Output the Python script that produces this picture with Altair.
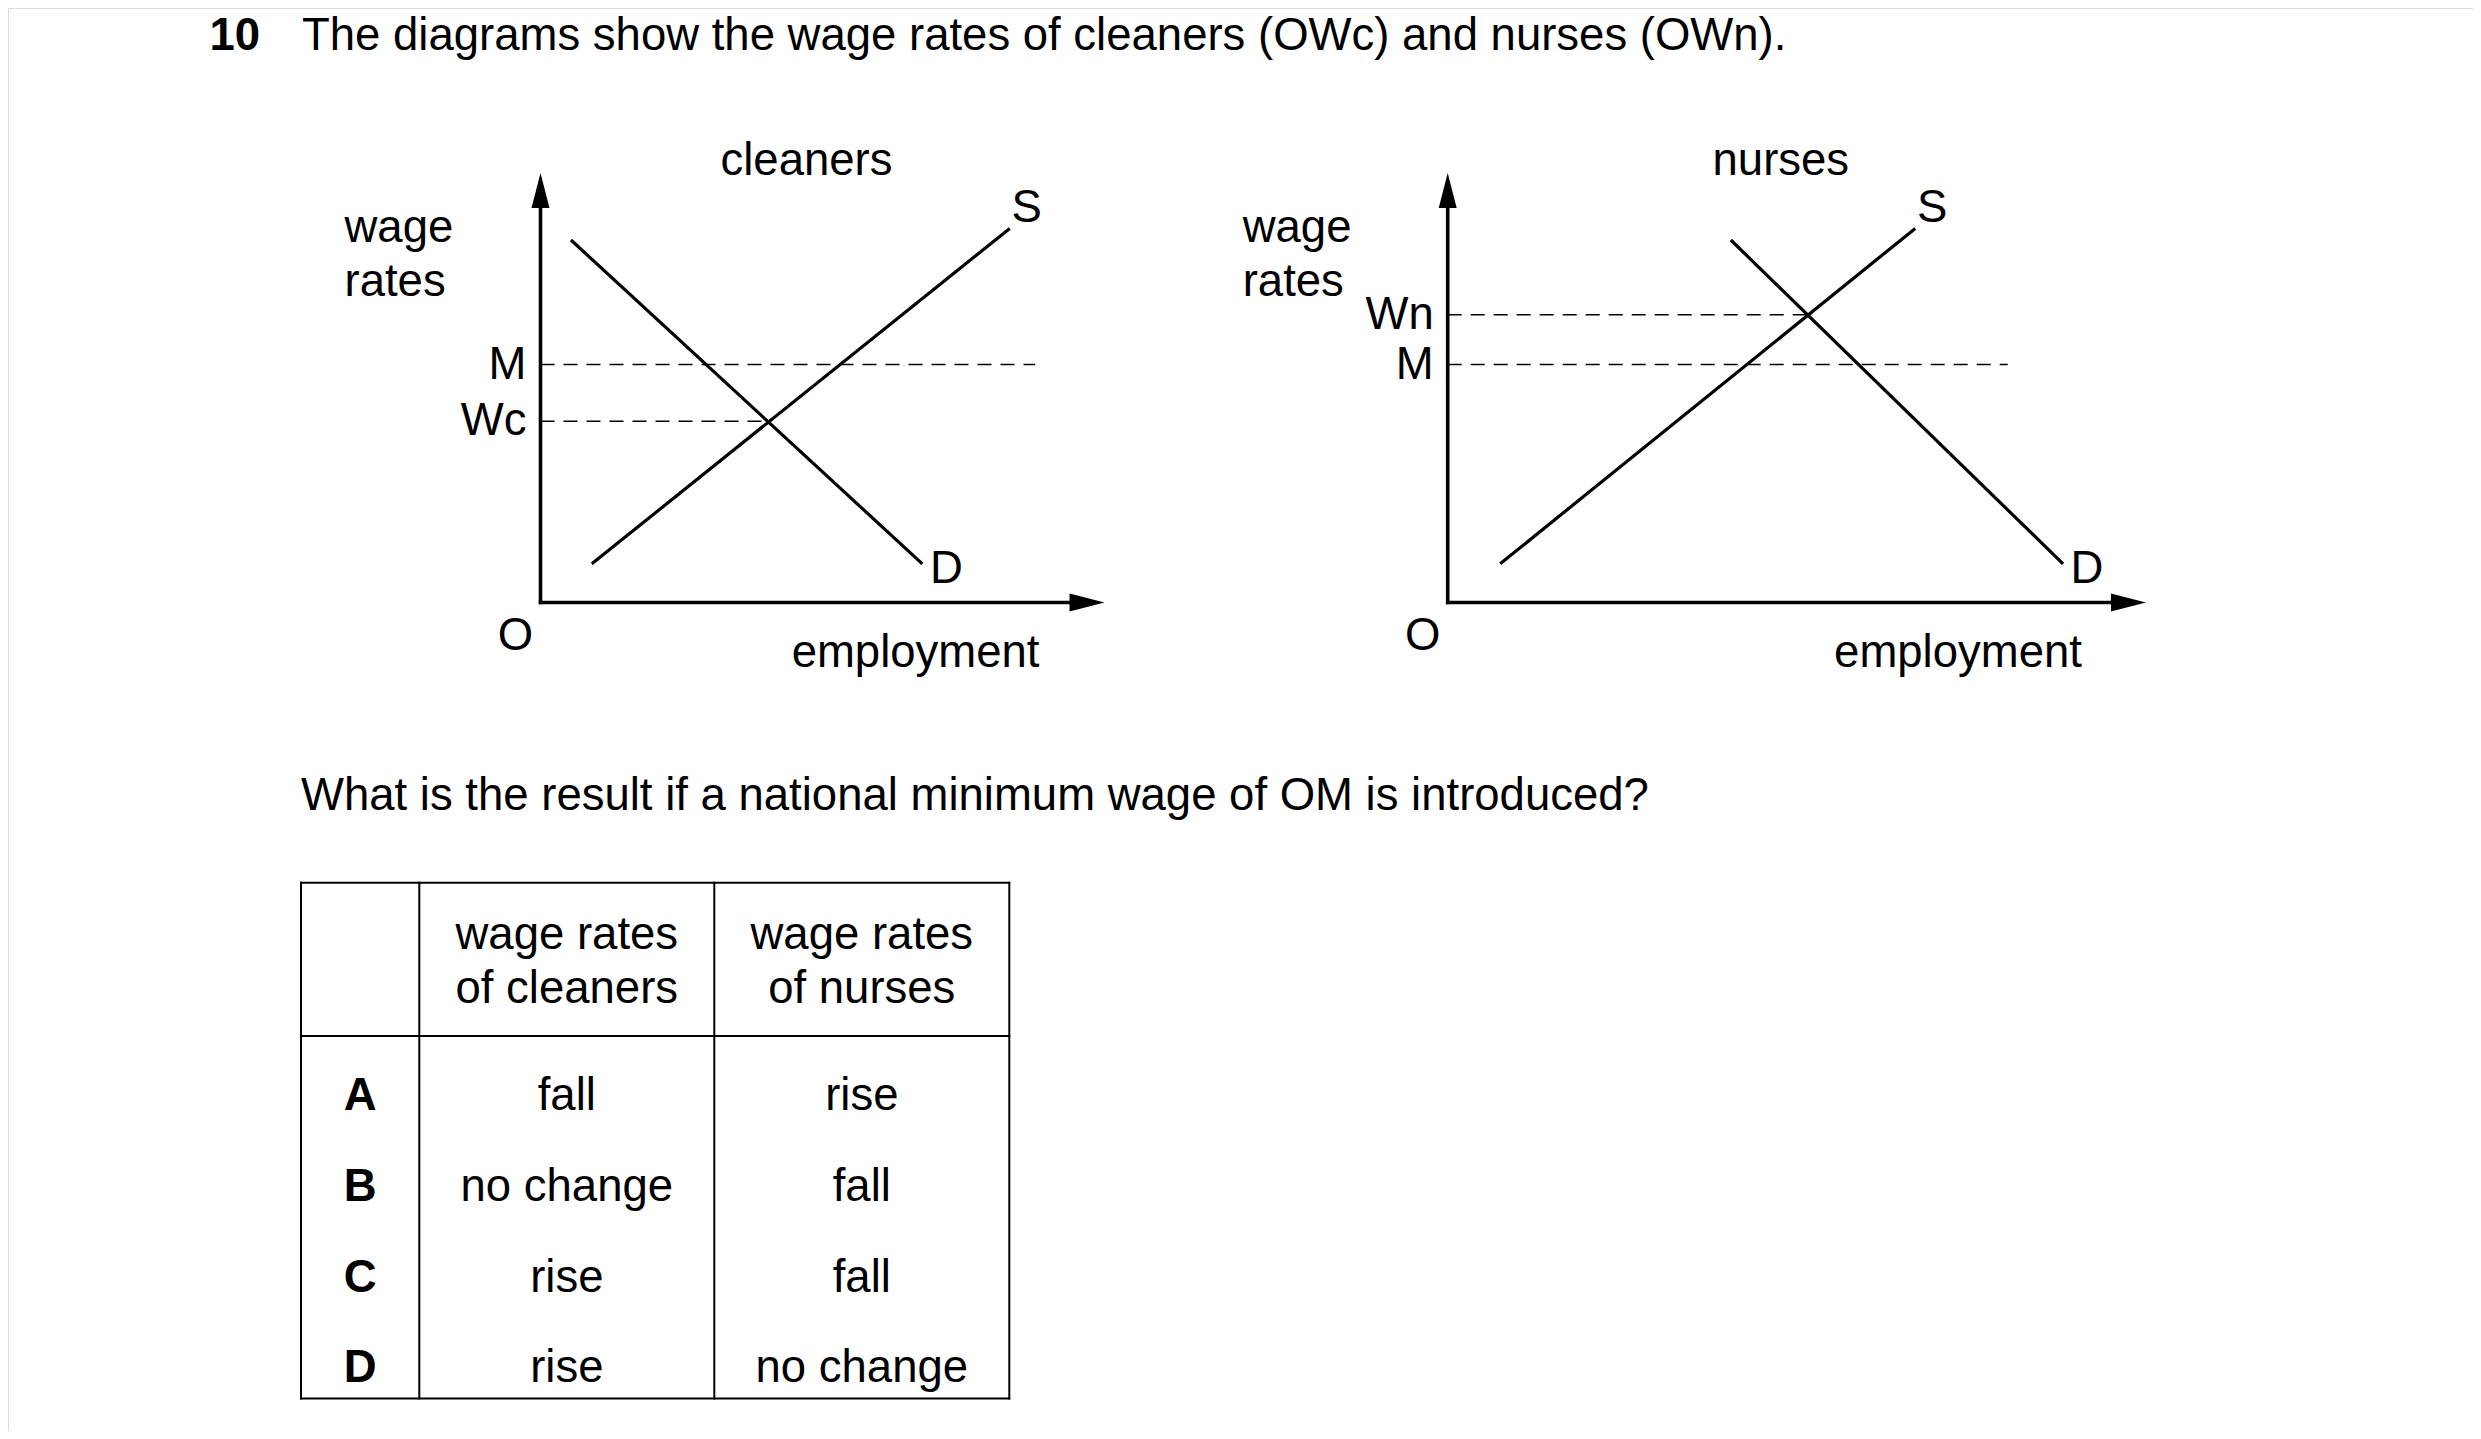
import altair as alt
import pandas as pd

# ---------------- data ----------------
title_number = "10"
title_text = "The diagrams show the wage rates of cleaners (OWc) and nurses (OWn)."
question_text = "What is the result if a national minimum wage of OM is introduced?"

panel_names = ["cleaners", "nurses"]
axis_tips_x = [10.0, 12.38]          # length of the employment axis (diagram units)
axis_tips_y = [10.0, 10.0]           # length of the wage axis

wage_marks_c = ["M", "Wc"]
wage_levels_c = [5.54, 4.22]
wage_dash_end_c = [8.77, 4.04]
demand_c_x = [0.54, 6.77]
demand_c_y = [8.44, 0.90]
supply_c_x = [0.91, 8.32]
supply_c_y = [0.90, 8.71]

wage_marks_n = ["Wn", "M"]
wage_levels_n = [6.70, 5.54]
wage_dash_end_n = [6.39, 9.93]
demand_n_x = [5.02, 10.91]
demand_n_y = [8.44, 0.90]
supply_n_x = [0.93, 8.29]
supply_n_y = [0.90, 8.71]

options = ["A", "B", "C", "D"]
cleaners_change = ["fall", "no change", "rise", "rise"]
nurses_change = ["rise", "fall", "fall", "no change"]
header_line1 = ["wage rates", "wage rates"]
header_line2 = ["of cleaners", "of nurses"]

# ---------------- layout ----------------
OFF = 8
W, H = 2465, 1423
UX, UY = 56.4, 42.95
ORIGIN_Y = 602.5
ORIGINS_X = [540.5, 1447.7]
WAGE_DX = [-196, -205]
EMP_DX = [-65, -64]
FONT = "Liberation Sans"
FS = 45.5
INK = "#000000"

RIGHT_ARROW = "M 0 0 L -1 -0.257 L -1 0.257 Z"
UP_ARROW = "M 0 0 L -0.257 1 L 0.257 1 Z"


def seg_layer(df, xs, ys, **mark):
    return alt.Chart(df).mark_rule(color=INK, **mark).encode(
        x=alt.X("x:Q", scale=xs, axis=None),
        y=alt.Y("y:Q", scale=ys, axis=None),
        x2="x2:Q", y2="y2:Q")


def text_layer(df, xs, ys, **mark):
    opts = dict(font=FONT, fontSize=FS, color=INK, baseline="middle", align="center")
    opts.update(mark)
    return alt.Chart(df).mark_text(**opts).encode(
        x=alt.X("x:Q", scale=xs, axis=None),
        y=alt.Y("y:Q", scale=ys, axis=None),
        text="label:N")


def point_layer(df, xs, ys, shape):
    return alt.Chart(df).mark_point(shape=shape, filled=True, size=4900, color=INK,
                                    opacity=1, strokeWidth=0).encode(
        x=alt.X("x:Q", scale=xs, axis=None),
        y=alt.Y("y:Q", scale=ys, axis=None))


def panel(i, wl, wv, we, dxs, dys, sxs, sys_):
    ox = ORIGINS_X[i] - OFF
    oy = ORIGIN_Y - OFF
    xs = alt.Scale(domain=[0, 10], range=[ox, ox + 10 * UX], nice=False, zero=False)
    ys = alt.Scale(domain=[0, 10], range=[oy, oy - 10 * UY], nice=False, zero=False)
    tx, ty = axis_tips_x[i], axis_tips_y[i]

    axes = pd.DataFrame({"x": [0, 0], "y": [0, 0],
                         "x2": [tx - 20 / UX, 0], "y2": [0, ty - 20 / UY]})
    curves = pd.DataFrame({"x": [dxs[0], sxs[0]], "y": [dys[0], sys_[0]],
                           "x2": [dxs[1], sxs[1]], "y2": [dys[1], sys_[1]]})
    dashes = pd.DataFrame({"x": [0] * len(wv), "y": wv, "x2": we, "y2": wv})

    layers = [
        seg_layer(dashes, xs, ys, strokeWidth=1.6, strokeDash=[14, 9]),
        seg_layer(curves, xs, ys, strokeWidth=3.2, strokeCap="butt"),
        seg_layer(axes, xs, ys, strokeWidth=3.6, strokeCap="square"),
        point_layer(pd.DataFrame({"x": [tx], "y": [0]}), xs, ys, RIGHT_ARROW),
        point_layer(pd.DataFrame({"x": [0], "y": [ty]}), xs, ys, UP_ARROW),
        text_layer(pd.DataFrame({"x": [0] * len(wl), "y": wv, "label": wl}), xs, ys,
                   align="right", dx=-14),
        text_layer(pd.DataFrame({"x": [0], "y": [0], "label": ["O"]}), xs, ys, dx=-25, dy=33),
        text_layer(pd.DataFrame({"x": [tx], "y": [0], "label": ["employment"]}), xs, ys,
                   align="right", dx=EMP_DX[i], dy=50),
        text_layer(pd.DataFrame({"x": [sxs[1]], "y": [sys_[1]], "label": ["S"]}), xs, ys,
                   dx=17, dy=-20),
        text_layer(pd.DataFrame({"x": [dxs[1]], "y": [dys[1]], "label": ["D"]}), xs, ys,
                   dx=24, dy=5),
        text_layer(pd.DataFrame({"x": [tx / 2], "y": [ty], "label": [panel_names[i]]}), xs, ys,
                   dx=-16, dy=-12),
        text_layer(pd.DataFrame({"x": [0], "y": [ty], "label": ["wage"]}), xs, ys,
                   align="left", dx=WAGE_DX[i], dy=55),
        text_layer(pd.DataFrame({"x": [0], "y": [ty], "label": ["rates"]}), xs, ys,
                   align="left", dx=WAGE_DX[i], dy=108.6),
    ]
    return alt.layer(*layers)


panel_c = panel(0, wage_marks_c, wage_levels_c, wage_dash_end_c,
                demand_c_x, demand_c_y, supply_c_x, supply_c_y)
panel_n = panel(1, wage_marks_n, wage_levels_n, wage_dash_end_n,
                demand_n_x, demand_n_y, supply_n_x, supply_n_y)

# ---------------- table + question + heading ----------------
TX0, TU = 301 - OFF, 295.0
TY0, TR = 1096 - OFF, 90.8
txs = alt.Scale(domain=[0, 1], range=[TX0, TX0 + TU], nice=False, zero=False)
tys = alt.Scale(domain=[0, 1], range=[TY0, TY0 + TR], nice=False, zero=False)

col_borders = [0, 0.401, 1.401, 2.401]
row_borders = [-2.349, -0.661, 3.331]
col_centres = [0.2005, 0.901, 1.901]
HEAD_ROWS = [-1.778, -1.178]
QUESTION_ROW = -3.304
TITLE_ROW = -11.52
TITLE_TEXT_X = 0.0034
TITLE_NUM_X = -0.31

vlines = pd.DataFrame({"x": col_borders, "x2": col_borders,
                       "y": [row_borders[0]] * 4, "y2": [row_borders[-1]] * 4})
hlines = pd.DataFrame({"x": [0] * 3, "x2": [col_borders[-1]] * 3,
                       "y": row_borders, "y2": row_borders})
grid = pd.concat([vlines, hlines], ignore_index=True)

rows = list(range(len(options)))
letters_df = pd.DataFrame({"x": [col_centres[0]] * 4, "y": rows, "label": options})
body_df = pd.DataFrame({
    "x": [col_centres[1]] * 4 + [col_centres[2]] * 4,
    "y": rows + rows,
    "label": cleaners_change + nurses_change})
head_df = pd.DataFrame({
    "x": col_centres[1:] + col_centres[1:],
    "y": [HEAD_ROWS[0]] * 2 + [HEAD_ROWS[1]] * 2,
    "label": header_line1 + header_line2})

table = alt.layer(
    seg_layer(grid, txs, tys, strokeWidth=2, strokeCap="square"),
    text_layer(letters_df, txs, tys, fontWeight="bold"),
    text_layer(body_df, txs, tys),
    text_layer(head_df, txs, tys),
    text_layer(pd.DataFrame({"x": [0.0], "y": [QUESTION_ROW], "label": [question_text]}),
               txs, tys, align="left"),
    text_layer(pd.DataFrame({"x": [TITLE_TEXT_X], "y": [TITLE_ROW], "label": [title_text]}),
               txs, tys, align="left", baseline="alphabetic"),
    text_layer(pd.DataFrame({"x": [TITLE_NUM_X], "y": [TITLE_ROW], "label": [title_number]}),
               txs, tys, align="left", baseline="alphabetic", fontWeight="bold"),
)

chart = alt.layer(panel_c, panel_n, table).resolve_scale(
    x="independent", y="independent"
).properties(
    width=W, height=H, padding=0, autosize=alt.AutoSizeParams(type="none")
).configure_view(
    stroke="transparent", strokeWidth=0, strokeOpacity=0
).configure(background="white")

chart.save("out.html", embed_options={"renderer": "svg", "actions": False})
